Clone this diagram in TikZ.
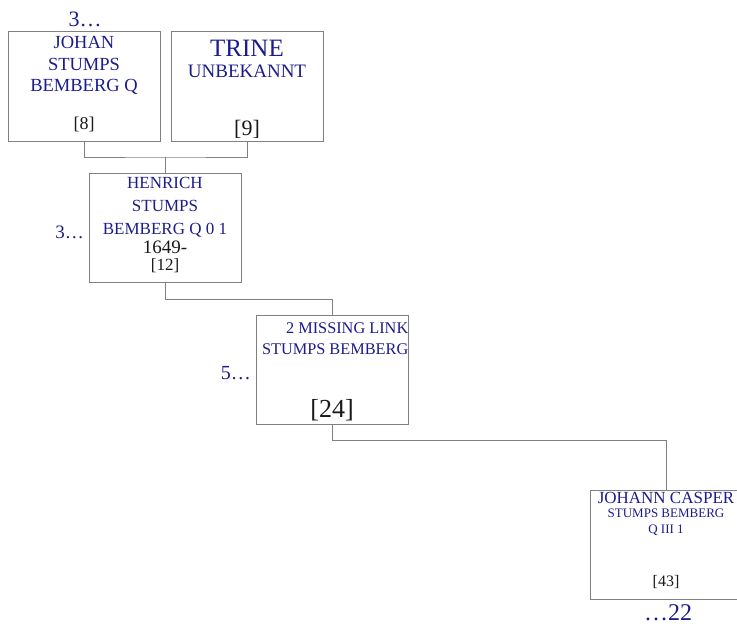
\documentclass[tikz,border=0pt]{standalone}
\usepackage{fontspec}
\setmainfont{Liberation Serif}
\usetikzlibrary{positioning}
\definecolor{nameblue}{RGB}{28,28,140}
\definecolor{boxgray}{RGB}{128,128,128}
\definecolor{idblack}{RGB}{25,25,25}
\newcommand{\fs}[2]{\fontsize{#1}{#2}\selectfont}
\tikzset{
    person/.style={draw=boxgray,line width=1pt,minimum width=152pt,minimum height=109pt,inner sep=0pt},
    pname/.style={text=nameblue,align=center,inner sep=0pt,anchor=north},
    idnum/.style={text=idblack,inner sep=0pt,anchor=base},
    more/.style={text=nameblue,inner sep=0pt},
    link/.style={draw=boxgray,line width=0.9pt},
}

\begin{document}
\begin{tikzpicture}[x=1pt,y=1pt,line cap=butt,line join=miter]

        \useasboundingbox (0,0) rectangle (737,-626);

        % --- Boxes ---
        \node[person] (p8)  at (84,-86.5)  {};
        \node[person] (p9)  at (247,-86.5) {};
        \node[person] (p12) at (165,-228)  {};
        \node[person] (p24) at (332,-369.5) {};
        \node[person] (p43) at (666,-545)  {};

        % Johan
        \node[pname,font=\fs{18.5}{21.5}] (n8) at ([yshift=-5pt]p8.north) {JOHAN\\STUMPS\\BEMBERG Q};
        \node[idnum,font=\fs{18}{20}] (i8) at ([yshift=12pt]p8.south) {[8]};

        % Trine
        \node[pname,font=\fs{25}{27}] (n9) at ([yshift=-8pt]p9.north) {TRINE};
        \node[pname,font=\fs{19}{21},below=8pt of n9] (n9b) {UNBEKANNT};
        \node[idnum,font=\fs{22}{24}] (i9) at ([yshift=6pt]p9.south) {[9]};

        % Henrich
        \node[pname,font=\fs{17}{23}] (n12) at ([yshift=-4pt]p12.north) {HENRICH\\STUMPS\\BEMBERG Q 0 1};
        \node[idnum,font=\fs{19}{20}] (d12) at ([yshift=30pt]p12.south) {1649-};
        \node[idnum,font=\fs{17}{19}] (i12) at ([yshift=13pt]p12.south) {[12]};

        % Missing link
        \node[pname,anchor=north east,align=right,font=\fs{16.3}{21}] (n24) at ([yshift=-8pt]p24.north east) {2 MISSING LINK\\STUMPS BEMBERG};
        \node[idnum,font=\fs{26}{28}] (i24) at ([yshift=7pt]p24.south) {[24]};

        % Johann Casper
        \node[pname,font=\fs{17}{19}] (n43) at ([yshift=-2pt]p43.north) {JOHANN CASPER};
        \node[pname,font=\fs{13}{16},below=5pt of n43] (n43b) {STUMPS BEMBERG\\Q III 1};
        \node[idnum,font=\fs{16}{18}] (i43) at ([yshift=14pt]p43.south) {[43]};

        % --- Continuation marks ---
        \node[more,anchor=base,font=\fs{22}{24}] (m8) at (85,-27) {3\ldots};
        \node[more,anchor=base east,font=\fs{19}{21}] (m12) at (84,-238) {3\ldots};
        \node[more,anchor=base east,font=\fs{20}{22}] (m24) at (251,-379) {5\ldots};
        \node[more,anchor=base,font=\fs{24}{26}] (m43) at (668,-620) {\ldots22};

        % --- Links ---
        \coordinate (j1) at (165,-157);
        \draw[link] (p8.south) |- (j1) -| (p9.south);
        \draw[link] (j1) -- (p12.north);
        \draw[link] (p12.south) -- ++(0,-16) -| (p24.north);
        \draw[link] (p24.south) -- ++(0,-16) -| (p43.north);

\end{tikzpicture}
\end{document}
